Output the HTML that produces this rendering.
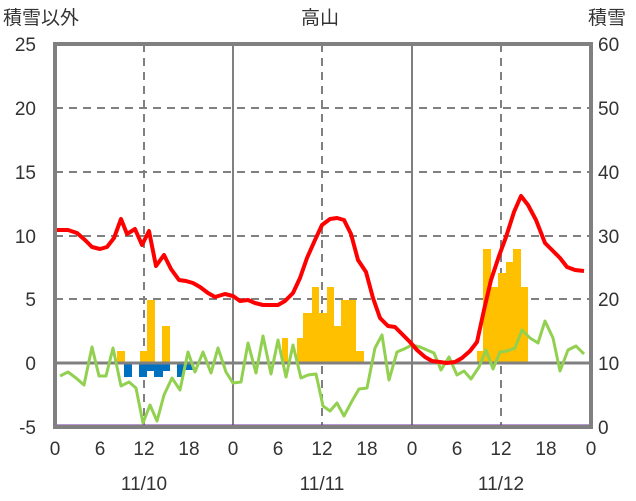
<!DOCTYPE html><html><head><meta charset="utf-8"><style>body{margin:0;background:#fff}svg{display:block}text{font-family:"Liberation Sans","Noto Sans CJK JP",sans-serif;fill:#333;font-size:19px}</style></head><body>
<svg width="636" height="501" viewBox="0 0 636 501">
<g stroke="#808080" stroke-width="2" stroke-dasharray="8,6">
<line x1="55" y1="108" x2="591" y2="108"/><line x1="55" y1="172" x2="591" y2="172"/><line x1="55" y1="236" x2="591" y2="236"/><line x1="55" y1="299" x2="591" y2="299"/>
<line x1="144" y1="44" x2="144" y2="427"/><line x1="322" y1="44" x2="322" y2="427"/><line x1="501" y1="44" x2="501" y2="427"/>
</g>
<g stroke="#808080" stroke-width="2"><line x1="233" y1="44" x2="233" y2="427"/><line x1="412" y1="44" x2="412" y2="427"/></g>
<g fill="#ffc000">
<rect x="117" y="351" width="8" height="12"/><rect x="140" y="351" width="7" height="12"/><rect x="147" y="300" width="8" height="63"/><rect x="162" y="326" width="8" height="37"/>
<rect x="282" y="338" width="6" height="25"/><rect x="297" y="338" width="6" height="25"/><rect x="303" y="313" width="9" height="50"/><rect x="312" y="287" width="7" height="76"/><rect x="319" y="313" width="8" height="50"/><rect x="327" y="287" width="7" height="76"/><rect x="334" y="326" width="7" height="37"/><rect x="341" y="300" width="15" height="63"/><rect x="356" y="351" width="8" height="12"/>
<rect x="477" y="351" width="6" height="12"/><rect x="483" y="249" width="8" height="114"/><rect x="491" y="287" width="7" height="76"/><rect x="498" y="273" width="8" height="90"/><rect x="506" y="262" width="7" height="101"/><rect x="513" y="249" width="8" height="114"/><rect x="521" y="287" width="7" height="76"/>
</g>
<g fill="#0070c0">
<rect x="124" y="363" width="8" height="14"/><rect x="139" y="363" width="8" height="14"/><rect x="147" y="363" width="7" height="8"/><rect x="154" y="363" width="9" height="14"/><rect x="163" y="363" width="7" height="8"/><rect x="177" y="363" width="6" height="14"/><rect x="183" y="363" width="10" height="7"/>
</g>
<line x1="55" y1="363" x2="591" y2="363" stroke="#808080" stroke-width="3"/>
<line x1="55" y1="426" x2="591" y2="426" stroke="#7030a0" stroke-width="3"/>
<polyline fill="none" stroke="#92d050" stroke-width="3" stroke-linejoin="round" points="60,376 68,372 76,378 84,385 92,347 99,376 106,376 113,348 121,386 129,382 136,388 143,423 150,405 157,421 164,395 172,378 180,390 188,352 195,372 203,352 211,373 218,348 226,372 233,383 241,382 248,343 256,373 263,336 271,374 278,340 286,377 293,345 301,378 308,375 316,374 323,406 330,411 337,403 344,416 352,401 359,389 367,388 375,348 382,335 389,380 397,352 404,349 412,345 420,347 427,350 434,353 441,370 449,357 457,375 464,371 471,379 479,367 486,350 493,369 500,352 507,351 515,348 522,330 530,338 538,343 545,321 553,338 560,371 568,350 576,346 584,354"/>
<polyline fill="none" stroke="#ff0000" stroke-width="4" stroke-linejoin="round" points="55,230 68,230 77,233 85,240 92,247 100,249 107,247 114,238 121,219 127,234 135,229 142,245 149,231 156,266 164,255 171,269 179,280 186,281 193,283 200,287 208,293 215,297 225,294 233,296 240,301 248,300 255,303 263,305 278,305 285,301 293,293 300,278 307,258 315,240 322,225 330,219 337,218 344,220 351,234 358,260 366,272 373,298 380,318 388,326 395,327 402,334 410,342 417,350 425,357 432,361 440,362 447,363 455,362 462,358 470,351 477,342 484,310 491,280 499,256 506,237 514,212 521,196 528,205 536,220 545,243 552,250 560,258 567,267 575,270 584,271"/>
<rect x="55" y="44" width="536" height="383" fill="none" stroke="#808080" stroke-width="4"/>
<text x="3" y="24">積雪以外</text><text x="301" y="24">高山</text><text x="588" y="24">積雪</text>
<g text-anchor="end"><text x="36" y="51">25</text><text x="36" y="115">20</text><text x="36" y="179">15</text><text x="36" y="243">10</text><text x="36" y="306">5</text><text x="36" y="370">0</text><text x="36" y="434">-5</text></g>
<g><text x="598" y="51">60</text><text x="598" y="115">50</text><text x="598" y="179">40</text><text x="598" y="243">30</text><text x="598" y="306">20</text><text x="598" y="370">10</text><text x="598" y="434">0</text></g>
<g text-anchor="middle"><text x="55" y="455">0</text><text x="100" y="455">6</text><text x="144" y="455">12</text><text x="189" y="455">18</text><text x="233" y="455">0</text><text x="278" y="455">6</text><text x="322" y="455">12</text><text x="367" y="455">18</text><text x="412" y="455">0</text><text x="457" y="455">6</text><text x="501" y="455">12</text><text x="546" y="455">18</text><text x="591" y="455">0</text>
<text x="144" y="490">11/10</text><text x="322" y="490">11/11</text><text x="501" y="490">11/12</text></g>
</svg></body></html>
